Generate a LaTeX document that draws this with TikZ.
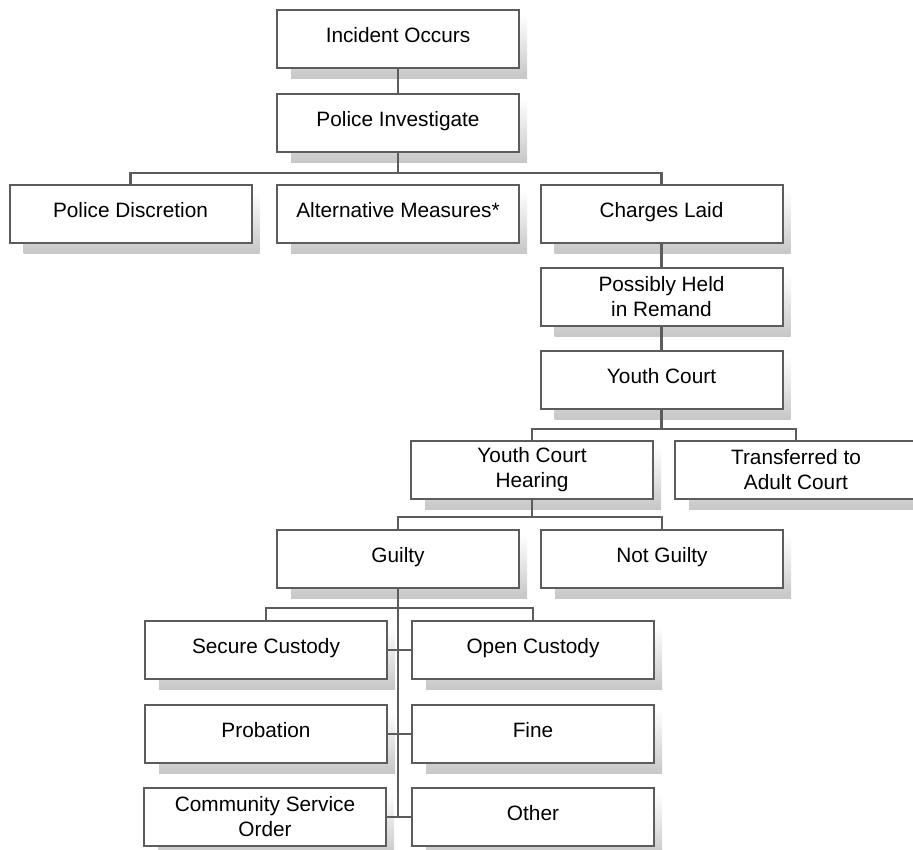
\documentclass[tikz,border=0pt]{standalone}
\usepackage{fontspec}
\setmainfont{Liberation Sans}
\usepackage{tikz}
\usetikzlibrary{backgrounds, calc}
\definecolor{edgegray}{HTML}{5C5C5C}
\tikzset{stagebox/.style={draw=edgegray, fill=white, line width=2pt, minimum width=242pt, minimum height=58pt, inner sep=0pt, align=center, font=\fontsize{20.8}{25}\selectfont},
         oneline/.style={stagebox, execute at begin node={\rule[-9pt]{0pt}{24pt}}},
         link/.style={draw=edgegray, line width=2.5pt, line join=miter}}

\begin{document}
\begin{tikzpicture}[x=1pt,y=-1pt]
                 \useasboundingbox (0,0) rectangle (913,849);

                 \node[oneline] (io) at (398,39) {Incident Occurs};
                 \node[oneline] (pi) at (398,123) {Police Investigate};

                 \node[oneline] (pd) at (130.5,214) {Police Discretion};
                 \node[oneline] (am) at (398,214) {Alternative Measures*};
                 \node[oneline] (cl) at (661.5,214) {Charges Laid};
                 \node[stagebox] (ph) at (661.5,297) {Possibly Held\\in Remand};
                 \node[oneline] (yc) at (661.5,380) {Youth Court};

                 \node[stagebox] (yh) at (532,470) {Youth Court\\Hearing};
                 \node[stagebox] (ta) at (796,470) {Transferred to\\Adult Court};

                 \node[oneline] (gu) at (398,559) {Guilty};
                 \node[oneline] (ng) at (662,559) {Not Guilty};

                 \node[oneline] (sc) at (266,650) {Secure Custody};
                 \node[oneline] (oc) at (533,650) {Open Custody};
                 \node[oneline] (pr) at (266,734) {Probation};
                 \node[oneline] (fi) at (533,734) {Fine};
                 \node[stagebox] (cs) at (265,817) {Community Service\\Order};
                 \node[oneline] (ot) at (533,817) {Other};

                 \coordinate (bus1) at (398,173);
                 \coordinate (bus2) at (661.5,429);
                 \coordinate (bus3) at (532,517);
                 \coordinate (bus4) at (398,608);

                 \draw[link] (io.south) -- (pi.north);
                 \draw[link] (pi.south) -- (bus1);
                 \draw[link] (pd.north) |- (bus1) -| (cl.north);

                 \draw[link] (cl.south) -- (ph.north);
                 \draw[link] (ph.south) -- (yc.north);
                 \draw[link] (yc.south) -- (bus2);
                 \draw[link] (yh.north) |- (bus2) -| (ta.north);

                 \draw[link] (yh.south) -- (bus3);
                 \draw[link] (gu.north) |- (bus3) -| (ng.north);

                 \draw[link] (gu.south) -- (gu.south |- cs.east);
                 \draw[link] (sc.north) |- (bus4) -| (oc.north);
                 \draw[link] (sc.east) -- (oc.west);
                 \draw[link] (pr.east) -- (fi.west);
                 \draw[link] (cs.east) -- (ot.west);

                 \begin{scope}[on background layer]
                   \foreach \b in {io,pi,pd,am,cl,ph,yc,yh,ta,gu,ng,sc,oc,pr,fi,cs,ot}
                     \shade[top color=white, bottom color=black!22] ([xshift=15pt,yshift=-9pt]\b.south west) rectangle ([xshift=7pt,yshift=-6pt]\b.north east);
                 \end{scope}

\end{tikzpicture}
\end{document}
